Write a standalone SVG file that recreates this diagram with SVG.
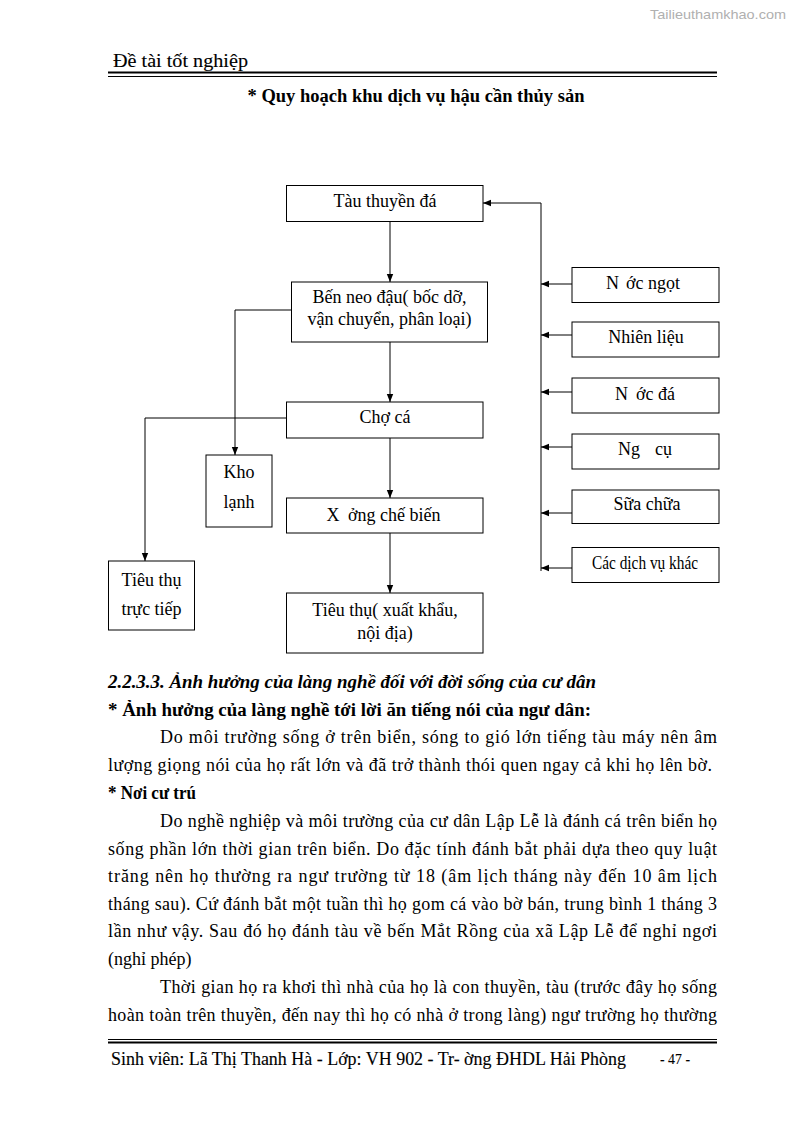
<svg xmlns="http://www.w3.org/2000/svg" width="794" height="1123" viewBox="0 0 794 1123">
<style>
  .bg{fill:#ffffff}
  .box{fill:#ffffff;stroke:#000;stroke-width:1}
  .t{font-family:"Liberation Serif","Times New Roman",serif;font-size:18px;fill:#000}
  .c{text-anchor:middle}
  .body{font-family:"Liberation Serif","Times New Roman",serif;font-size:18px;fill:#000}
  .b{font-weight:bold}
  .bi{font-weight:bold;font-style:italic}
  .hdr{font-family:"Liberation Serif","Times New Roman",serif;fill:#000;stroke:#000;stroke-width:0.12}
  .wm{font-family:"Liberation Sans",Arial,sans-serif;font-size:13px;fill:#b0b0b0}
  .ln{fill:none;stroke:#000;stroke-width:1}
</style>
<defs>
  <marker id="arr" viewBox="0 0 8 8" refX="8" refY="4" markerWidth="8" markerHeight="8" markerUnits="userSpaceOnUse" orient="auto">
    <path d="M0,0.8 L8,4 L0,7.2 Z" fill="#000"/>
  </marker>
</defs>
<rect class="bg" x="0" y="0" width="794" height="1123"/>

<!-- watermark -->
<text class="wm" x="650" y="19" textLength="136" lengthAdjust="spacingAndGlyphs">Tailieuthamkhao.com</text>

<!-- header -->
<text class="hdr" x="113" y="67" font-size="18" textLength="135" lengthAdjust="spacingAndGlyphs">Đề tài tốt nghiệp</text>
<line x1="108" y1="72.5" x2="717" y2="72.5" stroke="#000" stroke-width="2"/>
<line x1="108" y1="76.5" x2="717" y2="76.5" stroke="#000" stroke-width="1"/>

<text class="body b" x="416" y="102" text-anchor="middle" textLength="337" lengthAdjust="spacingAndGlyphs">* Quy hoạch khu dịch vụ hậu cần thủy sản</text>

<!-- connectors -->
<g id="connectors">
  <line class="ln" x1="390" y1="221" x2="390" y2="282" marker-end="url(#arr)"/>
  <line class="ln" x1="390" y1="342" x2="390" y2="402" marker-end="url(#arr)"/>
  <line class="ln" x1="390" y1="438" x2="390" y2="498" marker-end="url(#arr)"/>
  <line class="ln" x1="390" y1="533" x2="390" y2="593" marker-end="url(#arr)"/>
  <polyline class="ln" points="291,310 235,310 235,455" marker-end="url(#arr)"/>
  <polyline class="ln" points="286,418 145,418 145,561" marker-end="url(#arr)"/>
  <line class="ln" x1="541" y1="203" x2="541" y2="571"/>
  <line class="ln" x1="541" y1="203" x2="483" y2="203" marker-end="url(#arr)"/>
  <line class="ln" x1="572" y1="284" x2="541" y2="284" marker-end="url(#arr)"/>
  <line class="ln" x1="572" y1="335" x2="541" y2="335" marker-end="url(#arr)"/>
  <line class="ln" x1="572" y1="392" x2="541" y2="392" marker-end="url(#arr)"/>
  <line class="ln" x1="572" y1="447" x2="541" y2="447" marker-end="url(#arr)"/>
  <line class="ln" x1="572" y1="513" x2="541" y2="513" marker-end="url(#arr)"/>
  <line class="ln" x1="572" y1="568" x2="541" y2="568" marker-end="url(#arr)"/>
</g>

<!-- nodes -->
<g id="tau-thuyen-da">
  <rect class="box" x="286.5" y="185.5" width="196.5" height="36"/>
  <text class="t c" x="385" y="207">Tàu thuyền đá</text>
</g>
<g id="ben-neo-dau">
  <rect class="box" x="291.5" y="282" width="196" height="60"/>
  <text class="t c" x="389.5" y="303">Bến neo đậu( bốc dỡ,</text>
  <text class="t c" x="389.5" y="325">vận chuyển, phân loại)</text>
</g>
<g id="cho-ca">
  <rect class="box" x="286.5" y="402" width="196.5" height="36"/>
  <text class="t c" x="385" y="423">Chợ cá</text>
</g>
<g id="kho-lanh">
  <rect class="box" x="206" y="455" width="66" height="72"/>
  <text class="t c" x="239" y="478">Kho</text>
  <text class="t c" x="239" y="508">lạnh</text>
</g>
<g id="xuong-che-bien">
  <rect class="box" x="286.5" y="498" width="196.5" height="35"/>
  <text class="t"><tspan x="326.5" y="521">X</tspan><tspan x="348" y="521">ởng chế biến</tspan></text>
</g>
<g id="tieu-thu-truc-tiep">
  <rect class="box" x="108.5" y="561" width="86" height="69"/>
  <text class="t c" x="151.5" y="586">Tiêu thụ</text>
  <text class="t c" x="151.5" y="615">trực tiếp</text>
</g>
<g id="tieu-thu-xuat-khau">
  <rect class="box" x="286.5" y="593" width="196.5" height="60"/>
  <text class="t c" x="385" y="616">Tiêu thụ( xuất khẩu,</text>
  <text class="t c" x="385" y="639">nội địa)</text>
</g>
<g id="nuoc-ngot">
  <rect class="box" x="572" y="267.5" width="147" height="35"/>
  <text class="t"><tspan x="606" y="289">N</tspan><tspan x="626" y="289">ớc ngọt</tspan></text>
</g>
<g id="nhien-lieu">
  <rect class="box" x="572" y="322" width="147" height="35"/>
  <text class="t c" x="646" y="343">Nhiên liệu</text>
</g>
<g id="nuoc-da">
  <rect class="box" x="572" y="378" width="147" height="35"/>
  <text class="t"><tspan x="615" y="400">N</tspan><tspan x="636" y="400">ớc đá</tspan></text>
</g>
<g id="ngu-cu">
  <rect class="box" x="572" y="434" width="147" height="35"/>
  <text class="t"><tspan x="618" y="455">Ng</tspan><tspan x="655" y="455">cụ</tspan></text>
</g>
<g id="sua-chua">
  <rect class="box" x="572" y="490" width="147" height="33.5"/>
  <text class="t c" x="647" y="510">Sữa chữa</text>
</g>
<g id="cac-dich-vu-khac">
  <rect class="box" x="572" y="547.5" width="147" height="35"/>
  <text class="t" x="592" y="569" font-size="17" textLength="106" lengthAdjust="spacingAndGlyphs">Các dịch vụ khác</text>
</g>

<!-- body text -->
<g id="body">
  <text class="body bi" x="108" y="688" textLength="488" lengthAdjust="spacingAndGlyphs">2.2.3.3. Ảnh hưởng của làng nghề đối với đời sống của cư dân</text>
  <text class="body b" x="108" y="716" textLength="483" lengthAdjust="spacingAndGlyphs">* Ảnh hưởng của làng nghề tới lời ăn tiếng nói của ngư dân:</text>
  <text class="body" x="160" y="743" textLength="557" lengthAdjust="spacing">Do môi trường sống ở trên biển, sóng to gió lớn tiếng tàu máy nên âm</text>
  <text class="body" x="108" y="771" textLength="604" lengthAdjust="spacing">lượng giọng nói của họ rất lớn và đã trở thành thói quen ngay cả khi họ lên bờ.</text>
  <text class="body b" x="108" y="799" textLength="88" lengthAdjust="spacingAndGlyphs">* Nơi cư trú</text>
  <text class="body" x="160" y="827" textLength="557" lengthAdjust="spacing">Do nghề nghiệp và môi trường của cư dân Lập Lễ là đánh cá trên biển họ</text>
  <text class="body" x="108" y="855" textLength="609" lengthAdjust="spacing">sống phần lớn thời gian trên biển. Do đặc tính đánh bắt phải dựa theo quy luật</text>
  <text class="body" x="108" y="882" textLength="609" lengthAdjust="spacing">trăng nên họ thường ra ngư trường từ 18 (âm lịch tháng này đến 10 âm lịch</text>
  <text class="body" x="108" y="910" textLength="609" lengthAdjust="spacing">tháng sau). Cứ đánh bắt một tuần thì họ gom cá vào bờ bán, trung bình 1 tháng 3</text>
  <text class="body" x="108" y="937" textLength="609" lengthAdjust="spacing">lần như vậy. Sau đó họ đánh tàu về bến Mắt Rồng của xã Lập Lễ để nghỉ ngơi</text>
  <text class="body" x="108" y="965">(nghỉ phép)</text>
  <text class="body" x="160" y="993" textLength="557" lengthAdjust="spacing">Thời gian họ ra khơi thì nhà của họ là con thuyền, tàu (trước đây họ sống</text>
  <text class="body" x="108" y="1021" textLength="609" lengthAdjust="spacing">hoàn toàn trên thuyền, đến nay thì họ có nhà ở trong làng) ngư trường họ thường</text>
</g>

<!-- footer -->
<line x1="108" y1="1039.5" x2="717" y2="1039.5" stroke="#000" stroke-width="1"/>
<line x1="108" y1="1042.5" x2="717" y2="1042.5" stroke="#000" stroke-width="2"/>
<text class="hdr" x="111" y="1065" font-size="18" textLength="515" lengthAdjust="spacingAndGlyphs">Sinh viên: Lã Thị Thanh Hà - Lớp: VH 902 - Tr- ờng ĐHDL Hải Phòng</text>
<text class="hdr" x="660" y="1064" font-size="15" textLength="30" lengthAdjust="spacingAndGlyphs">- 47 -</text>
</svg>
